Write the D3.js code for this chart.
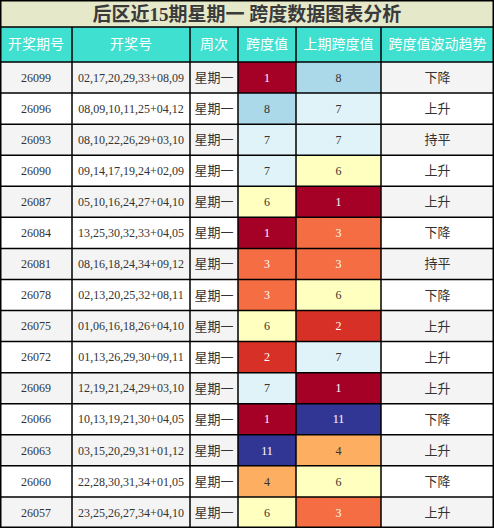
<!DOCTYPE html>
<html><head><meta charset="utf-8">
<script src="https://cdn.jsdelivr.net/npm/d3@7"></script>
<style>body{margin:0;background:#fff}svg{display:block}</style>
</head><body><svg id="c"></svg>
<script>
var title = "后区近15期星期一 跨度数据图表分析";
var headers = ["开奖期号", "开奖号", "周次", "跨度值", "上期跨度值", "跨度值波动趋势"];
var issues = ["26099","26096","26093","26090","26087","26084","26081","26078","26075","26072","26069","26066","26063","26060","26057"];
var draws = ["02,17,20,29,33+08,09","08,09,10,11,25+04,12","08,10,22,26,29+03,10","09,14,17,19,24+02,09","05,10,16,24,27+04,10","13,25,30,32,33+04,05","08,16,18,24,34+09,12","02,13,20,25,32+08,11","01,06,16,18,26+04,10","01,13,26,29,30+09,11","12,19,21,24,29+03,10","10,13,19,21,30+04,05","03,15,20,29,31+01,12","22,28,30,31,34+01,05","23,25,26,27,34+04,10"];
var spans = [1,8,7,7,6,1,3,3,6,2,7,1,11,4,6];
var prevSpans = [8,7,7,6,1,3,3,6,2,7,1,11,4,6,3];
var trends = ["下降","上升","持平","上升","上升","下降","持平","下降","上升","上升","上升","下降","上升","下降","上升"];

var W = 494, H = 528, titleH = 27, headH = 35;
var colEdges = [0, 72, 190, 238, 296, 381, 494];
var font = "'Liberation Serif','Noto Sans CJK SC',serif";

var svg = d3.select("#c").attr("width", W).attr("height", H);

var y = d3.scaleBand().domain(d3.range(issues.length)).range([titleH + headH, H]);
var color = d3.scaleOrdinal().domain(d3.range(1, 12)).range(d3.schemeRdYlBu[11]);
var dark = function (v) { return v <= 3 || v >= 10; };

// title
svg.append("rect").attr("width", W).attr("height", titleH).attr("fill", "#e5e8c9");
svg.append("text").attr("x", W / 2).attr("y", titleH / 2 + 1).attr("dy", ".35em")
    .attr("text-anchor", "middle").attr("font-family", font).attr("font-weight", "bold")
    .attr("font-size", 19).attr("fill", "#3a3a3a").text(title);

// header
svg.append("rect").attr("y", titleH).attr("width", W).attr("height", headH).attr("fill", "#40e0d0");
headers.forEach(function (h, i) {
    svg.append("text").attr("x", (colEdges[i] + colEdges[i + 1]) / 2).attr("y", titleH + headH / 2)
        .attr("dy", ".35em").attr("text-anchor", "middle").attr("font-family", "'Noto Sans CJK SC',sans-serif")
        .attr("font-size", 14).attr("fill", "#fff").text(h);
});

// rows
var row = svg.selectAll("g.row").data(issues).enter().append("g")
    .attr("class", "row")
    .attr("transform", function (d, i) { return "translate(0," + y(i) + ")"; });

row.append("rect").attr("width", W).attr("height", y.bandwidth())
    .attr("fill", function (d, i) { return i % 2 ? "#fff" : "#f4f4f4"; });

row.append("rect").attr("x", colEdges[3]).attr("width", colEdges[4] - colEdges[3]).attr("height", y.bandwidth())
    .attr("fill", function (d, i) { return color(spans[i]); });
row.append("rect").attr("x", colEdges[4]).attr("width", colEdges[5] - colEdges[4]).attr("height", y.bandwidth())
    .attr("fill", function (d, i) { return color(prevSpans[i]); });

var cols = [
    function (i) { return issues[i]; },
    function (i) { return draws[i]; },
    function () { return "星期一"; },
    function (i) { return spans[i]; },
    function (i) { return prevSpans[i]; },
    function (i) { return trends[i]; }
];
cols.forEach(function (f, c) {
    row.append("text")
        .attr("x", (colEdges[c] + colEdges[c + 1]) / 2).attr("y", y.bandwidth() / 2).attr("dy", ".35em")
        .attr("text-anchor", "middle").attr("font-family", font)
        .attr("font-size", c === 2 || c === 5 ? 13 : 12)
        .attr("fill", function (d, i) {
            if (c === 3) return dark(spans[i]) ? "#fff" : "#333";
            if (c === 4) return dark(prevSpans[i]) ? "#fff" : "#333";
            return "#333";
        })
        .text(function (d, i) { return f(i); });
});

// grid lines
var lines = svg.append("g").attr("stroke", "#000").attr("stroke-width", 1.5);
d3.range(issues.length + 1).forEach(function (i) {
    var yy = i < issues.length ? y(i) : H - 0.75;
    lines.append("line").attr("x1", 0).attr("x2", W).attr("y1", yy).attr("y2", yy);
});
lines.append("line").attr("x1", 0).attr("x2", W).attr("y1", titleH).attr("y2", titleH);
colEdges.forEach(function (x, i) {
    var xx = i === 0 ? 0.75 : (i === colEdges.length - 1 ? W - 0.75 : x);
    lines.append("line").attr("x1", xx).attr("x2", xx).attr("y1", i === 0 || i === colEdges.length - 1 ? 0 : titleH).attr("y2", H);
});
lines.append("line").attr("x1", 0).attr("x2", W).attr("y1", 0.75).attr("y2", 0.75);
</script>
</body></html>
